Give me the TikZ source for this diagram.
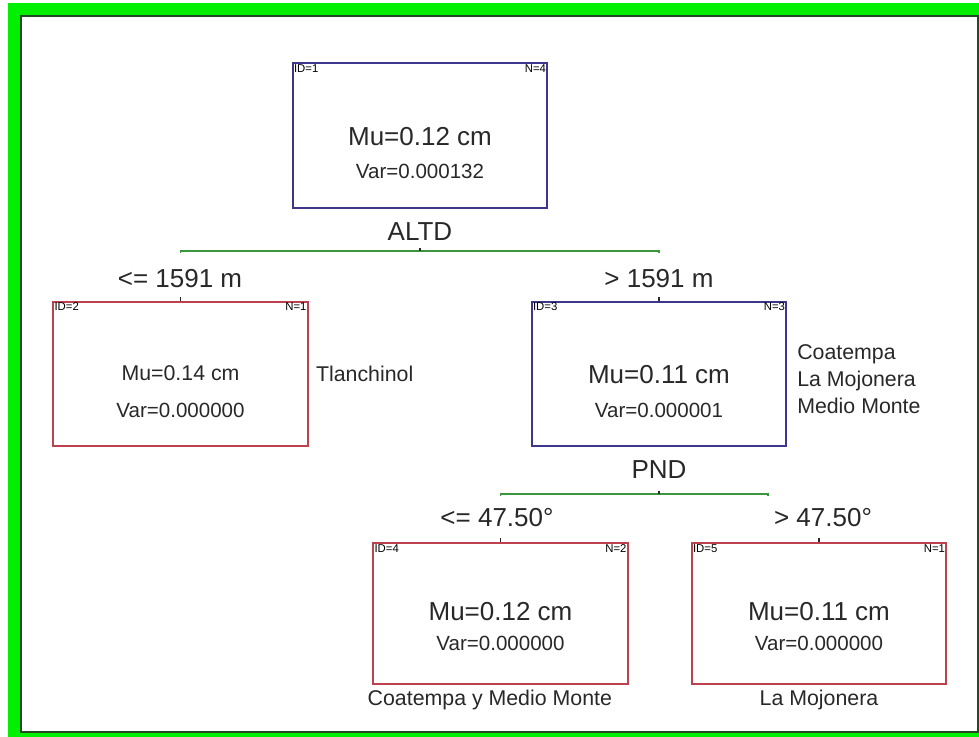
\documentclass[tikz,border=0pt]{standalone}
\usepackage{fontspec}
\setmainfont{Liberation Sans}
\usetikzlibrary{positioning}
\definecolor{marco}{RGB}{0,240,0}
\definecolor{borde}{RGB}{35,75,35}
\definecolor{azul}{RGB}{60,55,140}
\definecolor{rojo}{RGB}{190,65,80}
\definecolor{verde}{RGB}{60,150,60}
\definecolor{texto}{RGB}{40,40,40}

\begin{document}
\begin{tikzpicture}[x=0.75pt, y=-0.75pt,
        caja/.style={draw, line width=1.3pt, minimum width=191pt, minimum height=108.5pt, inner sep=0pt},
        cajaazul/.style={caja, draw=azul},
        cajaroja/.style={caja, draw=rojo},
        corte/.style={verde, line width=1.2pt},
        muesca/.style={texto, line width=1pt},
        esq/.style={font=\fontsize{8.5}{9}\selectfont, text=black, inner sep=1.5pt},
        mu/.style={font=\fontsize{19.5}{22}\selectfont, text=texto},
        muchico/.style={font=\fontsize{16}{19}\selectfont, text=texto},
        var/.style={font=\fontsize{15.4}{18}\selectfont, text=texto},
        etiq/.style={font=\fontsize{19.5}{23}\selectfont, text=texto},
        sitio/.style={font=\fontsize{16}{20.25}\selectfont, text=texto}]
        % Marco
        \useasboundingbox (0,0) rectangle (979,737);
        \fill[white] (0,0) rectangle (979,737);
        \fill[marco] (8,3) rectangle (979,737);
        \filldraw[fill=white, draw=borde, line width=1.5pt] (21,16) rectangle (977.5,732);

        % Nodo 1
        \node[cajaazul] (n1) at (420,135.5) {};
        \node[esq, anchor=north west] (id1) at (n1.north west) {ID=1};
        \node[esq, anchor=north east] (nn1) at (n1.north east) {N=4};
        \node[mu] (mu1) at (420,137) {Mu=0.12 cm};
        \node[var] (var1) at (420,171) {Var=0.000132};
        \node[etiq] (altd) at (420,232) {ALTD};

        % Nodo 2
        \node[cajaroja] (n2) at (180.5,374) {};
        \node[esq, anchor=north west] (id2) at (n2.north west) {ID=2};
        \node[esq, anchor=north east] (nn2) at (n2.north east) {N=1};
        \node[muchico] (mu2) at (180.5,373) {Mu=0.14 cm};
        \node[var] (var2) at (180.5,410) {Var=0.000000};
        \node[sitio, right=2pt of n2] (s2) {Tlanchinol};

        % Nodo 3
        \node[cajaazul] (n3) at (659,374) {};
        \node[esq, anchor=north west] (id3) at (n3.north west) {ID=3};
        \node[esq, anchor=north east] (nn3) at (n3.north east) {N=3};
        \node[mu] (mu3) at (659,375) {Mu=0.11 cm};
        \node[var] (var3) at (659,410) {Var=0.000001};
        \node[sitio, align=left, right=4pt of n3, yshift=-3.5pt] (s3) {Coatempa\\La Mojonera\\Medio Monte};
        \node[etiq] (pnd) at (659,470) {PND};

        % Nodo 4
        \node[cajaroja, minimum height=105.75pt] (n4) at (500.5,613.5) {};
        \node[esq, anchor=north west] (id4) at (n4.north west) {ID=4};
        \node[esq, anchor=north east] (nn4) at (n4.north east) {N=2};
        \node[mu] (mu4) at (500.5,612) {Mu=0.12 cm};
        \node[var] (var4) at (500.5,643) {Var=0.000000};
        \node[sitio, below=0pt of n4, xshift=-8pt] (s4) {Coatempa y Medio Monte};

        % Nodo 5
        \node[cajaroja, minimum height=105.75pt] (n5) at (819,613.5) {};
        \node[esq, anchor=north west] (id5) at (n5.north west) {ID=5};
        \node[esq, anchor=north east] (nn5) at (n5.north east) {N=1};
        \node[mu] (mu5) at (819,612) {Mu=0.11 cm};
        \node[var] (var5) at (819,643) {Var=0.000000};
        \node[sitio, below=0pt of n5] (s5) {La Mojonera};

        % Division ALTD
        \draw[corte] (n2.north |- 0,253) -- (n2.north |- 0,251) -- (n3.north |- 0,251) -- (n3.north |- 0,253);
        \draw[muesca] (n1.south |- 0,251) -- ++(0,-3);
        \node[etiq] (c2) at (180,279) {<= 1591 m};
        \node[etiq] (c3) at (659,279) {> 1591 m};
        \draw[muesca] (n2.north) -- ++(0,-4);
        \draw[muesca] (n3.north) -- ++(0,-4);

        % Division PND
        \coordinate (fin2) at (768,494);
        \draw[corte] (n4.north |- 0,496) -- (n4.north |- 0,494) -- (fin2) -- ++(0,2);
        \draw[muesca] (n3.south |- 0,494) -- ++(0,-3);
        \node[etiq] (c4) at (497,518) {<= 47.50°};
        \node[etiq] (c5) at (823,518) {> 47.50°};
        \draw[muesca] (n4.north) -- ++(0,-4);
        \draw[muesca] (n5.north) -- ++(0,-4);
    \end{tikzpicture}
\end{document}
